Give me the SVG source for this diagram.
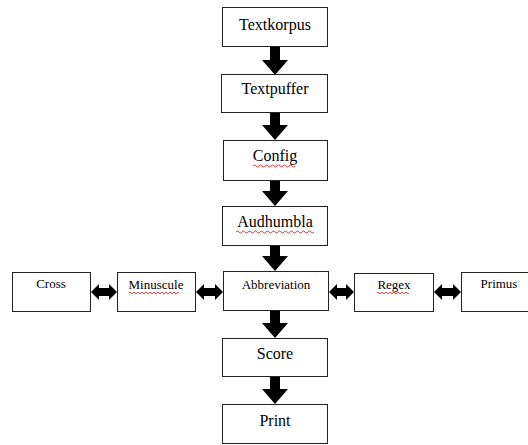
<svg xmlns="http://www.w3.org/2000/svg" width="528" height="445" viewBox="0 0 528 445">
<style>
.box{fill:#fff;stroke:#222;stroke-width:1}
.big{font-size:16px;fill:#000;text-anchor:middle}
.small{font-size:13px;fill:#000;text-anchor:middle}
.arr{fill:#000}
.sq{fill:none;stroke:#e02020;stroke-width:0.9}
</style>
<rect width="528" height="445" fill="#fff"/>
<g id="connectors">
<path class="arr" d="M270,46 H280 V60 H288 L275,75 L262,60 H270 Z"/>
<path class="arr" d="M270,113 H280 V125 H288 L275,140 L262,125 H270 Z"/>
<path class="arr" d="M270,180 H280 V191 H288 L275,206 L262,191 H270 Z"/>
<path class="arr" d="M270,245 H280 V256 H288 L275,271 L262,256 H270 Z"/>
<path class="arr" d="M270,311 H280 V323 H288 L275,338 L262,323 H270 Z"/>
<path class="arr" d="M270,376 H280 V389 H288 L275,404 L262,389 H270 Z"/>
<path class="arr" d="M91,292 L99,284 V288 H109 V284 L117,292 L109,300 V296 H99 V300 Z"/>
<path class="arr" d="M196,292 L204,284 V288 H215 V284 L223,292 L215,300 V296 H204 V300 Z"/>
<path class="arr" d="M329,292 L337,284 V288 H346 V284 L354,292 L346,300 V296 H337 V300 Z"/>
<path class="arr" d="M434,292 L442,284 V288 H453 V284 L461,292 L453,300 V296 H442 V300 Z"/>
</g>
<g font-family="Liberation Serif, serif">
<g id="textkorpus"><rect class="box" x="222.5" y="7.5" width="105" height="39"/><text class="big" x="275" y="30" font-family="Liberation Serif, serif">Textkorpus</text></g>
<g id="textpuffer"><rect class="box" x="221.5" y="74.5" width="106" height="38"/><text class="big" x="275" y="94" font-family="Liberation Serif, serif">Textpuffer</text></g>
<g id="config"><rect class="box" x="223.5" y="140.5" width="104" height="40"/><text class="big" x="275" y="161" font-family="Liberation Serif, serif">Config</text><path class="sq" d="M253,166 q1.5,-2 3,0 t3,0 t3,0 t3,0 t3,0 t3,0 t3,0 t3,0 t3,0 t3,0 t3,0 t3,0 t3,0 t3,0"/></g>
<g id="audhumbla"><rect class="box" x="222.5" y="206.5" width="105" height="39"/><text class="big" x="275" y="227" font-family="Liberation Serif, serif">Audhumbla</text><path class="sq" d="M236,232 q1.5,-2 3,0 t3,0 t3,0 t3,0 t3,0 t3,0 t3,0 t3,0 t3,0 t3,0 t3,0 t3,0 t3,0 t3,0 t3,0 t3,0 t3,0 t3,0 t3,0 t3,0 t3,0 t3,0 t3,0 t3,0 t3,0 t3,0"/></g>
<g id="abbreviation"><rect class="box" x="223.5" y="271.5" width="105" height="39"/><text class="small" x="276" y="289" font-family="Liberation Serif, serif">Abbreviation</text></g>
<g id="cross"><rect class="box" x="12.5" y="272.5" width="78" height="39"/><text class="small" x="51" y="288" font-family="Liberation Serif, serif">Cross</text></g>
<g id="minuscule"><rect class="box" x="117.5" y="272.5" width="78" height="39"/><text class="small" x="156" y="289" font-family="Liberation Serif, serif">Minuscule</text><path class="sq" d="M129,293 q1,-1.6 2,0 t2,0 t2,0 t2,0 t2,0 t2,0 t2,0 t2,0 t2,0 t2,0 t2,0 t2,0 t2,0 t2,0 t2,0 t2,0 t2,0 t2,0 t2,0 t2,0 t2,0 t2,0 t2,0 t2,0 t2,0"/></g>
<g id="regex"><rect class="box" x="354.5" y="273.5" width="79" height="38"/><text class="small" x="394" y="289" font-family="Liberation Serif, serif">Regex</text><path class="sq" d="M377,293 q1,-1.6 2,0 t2,0 t2,0 t2,0 t2,0 t2,0 t2,0 t2,0 t2,0 t2,0 t2,0 t2,0 t2,0 t2,0 t2,0 t2,0"/></g>
<g id="primus"><rect class="box" x="461.5" y="272.5" width="70" height="39"/><text class="small" x="499" y="288" font-family="Liberation Serif, serif">Primus</text></g>
<g id="score"><rect class="box" x="222.5" y="338.5" width="105" height="38"/><text class="big" x="275" y="359" font-family="Liberation Serif, serif">Score</text></g>
<g id="print"><rect class="box" x="222.5" y="404.5" width="105" height="39"/><text class="big" x="275" y="426" font-family="Liberation Serif, serif">Print</text></g>
</g>
</svg>
